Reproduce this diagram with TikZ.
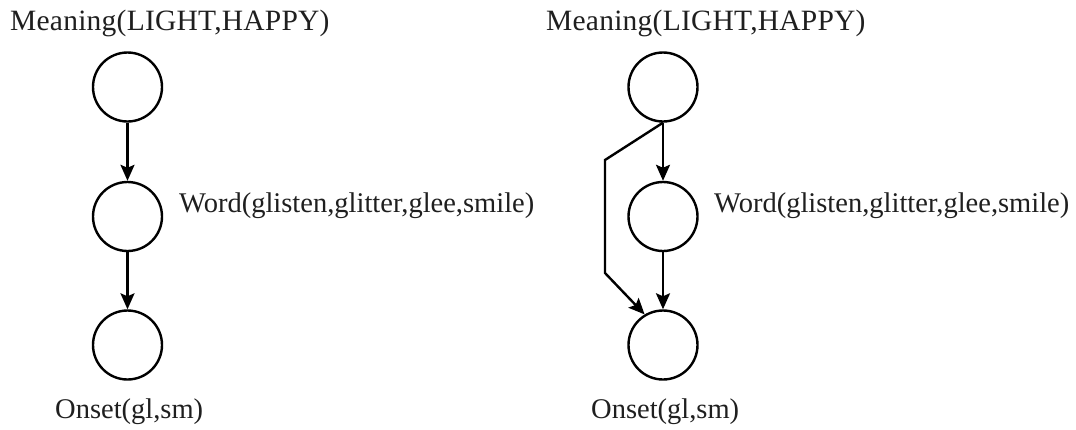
\documentclass[tikz,border=0pt]{standalone}
\usepackage{fontspec}
\setmainfont{Liberation Serif}
\usetikzlibrary{arrows.meta}
\begin{document}
\begin{tikzpicture}[x=1pt,y=-1pt,
  var/.style={circle,draw,line width=2.4pt,minimum size=69pt,inner sep=0pt},
  lbl/.style={anchor=base west,inner sep=0pt,font=\fontsize{28.5}{30}\selectfont,text=black!88},
  toplbl/.style={lbl,font=\fontsize{29.5}{31}\selectfont\addfontfeature{LetterSpace=0.8}},
  arr/.style={line width=2.4pt,-{Stealth[length=16pt,width=14pt,inset=3pt]}}]
\path[use as bounding box] (0,0) rectangle (1076,429);
% left
\node[var] (a1) at (127.5,87) {};
\node[var] (b1) at (127.5,216.5) {};
\node[var] (c1) at (127.5,345) {};
\node[toplbl] (la1) at (10,30) {Meaning(LIGHT,HAPPY)};
\node[lbl] (lb1) at (179,212) {Word(glisten,glitter,glee,smile)};
\node[lbl] (lc1) at (55,418) {Onset(gl,sm)};
\draw[arr] (a1) -- (b1);
\draw[arr] (b1) -- (c1);
% right
\node[var] (a2) at (663,87) {};
\node[var] (b2) at (663,216.5) {};
\node[var] (c2) at (663,345) {};
\node[toplbl] (la2) at (546,30) {Meaning(LIGHT,HAPPY)};
\node[lbl] (lb2) at (714,212) {Word(glisten,glitter,glee,smile)};
\node[lbl] (lc2) at (591,418) {Onset(gl,sm)};
\coordinate (k1) at (605,160);
\coordinate (k2) at (605,273);
\draw[arr] (a2) -- (b2);
\draw[arr] (b2) -- (c2);
\draw[arr,line join=miter] (a2.south) -- (k1) -- (k2) -- (c2.121);
\end{tikzpicture}
\end{document}
